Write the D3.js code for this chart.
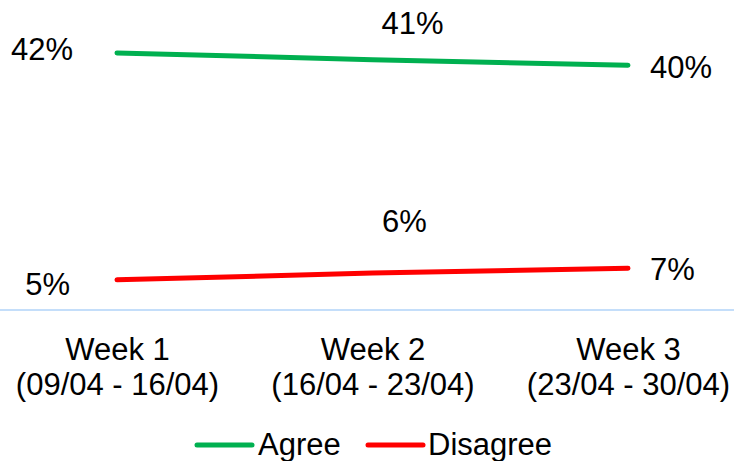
<!DOCTYPE html>
<html>
<head>
<meta charset="utf-8">
<script src="https://cdn.jsdelivr.net/npm/d3@7"></script>
<style>
  html, body { margin: 0; padding: 0; background: #fff; }
  svg { display: block; font-family: "Liberation Sans", Arial, sans-serif; }
</style>
</head>
<body>
<svg id="chart" width="734" height="461"></svg>
<script>
// Survey share by week
const weeks = ["Week 1", "Week 2", "Week 3"];
const weekRanges = ["(09/04 - 16/04)", "(16/04 - 23/04)", "(23/04 - 30/04)"];
const agree = [41.8, 40.7, 39.8];
const disagree = [4.9, 6.0, 6.8];
const seriesNames = ["Agree", "Disagree"];

// Presentation settings
const colors = { Agree: "#00B050", Disagree: "#FF0000" };
const labelOffsets = {
  Agree:    [{dx: -44, dy: 7, anchor: "end"}, {dx: 40, dy: -25.5, anchor: "middle"}, {dx: 22, dy: 13, anchor: "start"}],
  Disagree: [{dx: -47, dy: 15, anchor: "end"}, {dx: 32, dy: -41, anchor: "middle"}, {dx: 22, dy: 12, anchor: "start"}]
};
const fontSize = 31;

const W = 734, H = 461;
const svg = d3.select("#chart");

const x = d3.scalePoint().domain(weeks).range([117, 628]);
const y = d3.scaleLinear().domain([0, 50]).range([310, 2.5]);

const series = [
  { name: "Agree", values: agree },
  { name: "Disagree", values: disagree }
];

// Category axis baseline across the full width
svg.append("line")
  .attr("x1", 0).attr("x2", W)
  .attr("y1", y(0)).attr("y2", y(0))
  .attr("stroke", "#C4DEFA")
  .attr("stroke-width", 2);

// Category axis labels (two lines each)
const xAxis = svg.append("g")
  .attr("transform", `translate(0,${y(0)})`)
  .call(d3.axisBottom(x).tickSize(0).tickPadding(0));
xAxis.select(".domain").remove();
xAxis.selectAll(".tick text").each(function(d, i) {
  const t = d3.select(this);
  t.text(null)
    .attr("y", 0).attr("dy", null)
    .attr("fill", "#000")
    .style("font-size", fontSize + "px")
    .attr("font-family", "Liberation Sans, Arial, sans-serif");
  t.append("tspan").attr("x", 0).attr("y", 50).text(d);
  t.append("tspan").attr("x", 0).attr("y", 85).text(weekRanges[weeks.indexOf(d)]);
});

// Lines
const line = d3.line()
  .x((v, i) => x(weeks[i]))
  .y(v => y(v));

svg.selectAll("path.series")
  .data(series)
  .join("path")
  .attr("class", "series")
  .attr("d", s => line(s.values))
  .attr("fill", "none")
  .attr("stroke", s => colors[s.name])
  .attr("stroke-width", 5)
  .attr("stroke-linecap", "round")
  .attr("stroke-linejoin", "round");

// Data labels
series.forEach(s => {
  svg.selectAll(null)
    .data(s.values)
    .join("text")
    .attr("x", (v, i) => x(weeks[i]) + labelOffsets[s.name][i].dx)
    .attr("y", (v, i) => y(v) + labelOffsets[s.name][i].dy)
    .attr("text-anchor", (v, i) => labelOffsets[s.name][i].anchor)
    .attr("font-size", fontSize)
    .attr("fill", "#000")
    .text(v => Math.round(v) + "%");
});

// Legend
const legendItems = [
  { name: seriesNames[0], x1: 197, x2: 252, tx: 258 },
  { name: seriesNames[1], x1: 368, x2: 423, tx: 428 }
];
const legend = svg.append("g");
legend.selectAll("line")
  .data(legendItems)
  .join("line")
  .attr("x1", d => d.x1).attr("x2", d => d.x2)
  .attr("y1", 445).attr("y2", 445)
  .attr("stroke", d => colors[d.name])
  .attr("stroke-width", 5)
  .attr("stroke-linecap", "round");
legend.selectAll("text")
  .data(legendItems)
  .join("text")
  .attr("x", d => d.tx)
  .attr("y", 455)
  .attr("font-size", fontSize)
  .attr("fill", "#000")
  .text(d => d.name);
</script>
</body>
</html>
